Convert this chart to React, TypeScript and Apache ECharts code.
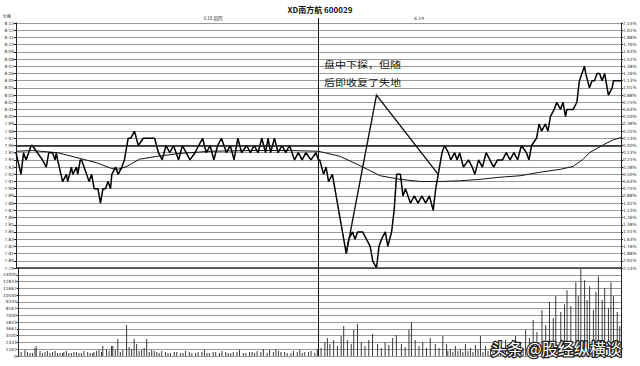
import React, { useEffect, useRef } from "react";
import * as echarts from "echarts";

// 昨收价与价格刻度：上下各 17 格，每格 0.01 元
const prevClose = 7.96;
const priceStep = 0.01;
const priceSpan = 17;
const priceMin = Number((prevClose - priceSpan * priceStep).toFixed(2));
const priceMax = Number((prevClose + priceSpan * priceStep).toFixed(2));

// 成交量刻度：13 格
const volStep = 3500 / 3;
const volMax = volStep * 13;

// 两个交易日，每日 240 分钟
const minutesTotal = 480;
const dayBreak = 240;
const dayLabels = ["6.18 周四", "6.19"];
const titleText = "XD南方航 600029";
const cornerLabel = "价格";
const noteLines = ["盘中下探，但随", "后即收复了失地"];
const watermarkText = "头条 @股经纵横谈";

// 分时价格 [分钟, 价格]
const priceDay1: [number, number][] = [
  [0, 7.95], [4, 7.92], [6, 7.95], [8, 7.94], [12, 7.96], [13, 7.96], [17, 7.95], [21, 7.94], [24, 7.93], [26, 7.95],
  [29, 7.95], [31, 7.94], [32, 7.95], [33, 7.94], [37, 7.91], [40, 7.92], [41, 7.91], [44, 7.93], [45, 7.92], [48, 7.93],
  [49, 7.92], [51, 7.94], [52, 7.94], [54, 7.93], [56, 7.92], [58, 7.91], [60, 7.92], [62, 7.9], [65, 7.9], [67, 7.88],
  [69, 7.9], [71, 7.9], [73, 7.91], [75, 7.9], [76, 7.92], [79, 7.93], [81, 7.92], [84, 7.93], [86, 7.94], [89, 7.97],
  [91, 7.97], [94, 7.98], [97, 7.96], [101, 7.97], [110, 7.97], [113, 7.95], [116, 7.94], [119, 7.96], [122, 7.95], [125, 7.96],
  [129, 7.94], [132, 7.96], [135, 7.95], [138, 7.94], [142, 7.95], [145, 7.96], [148, 7.97], [151, 7.95], [154, 7.96], [157, 7.94],
  [160, 7.96], [163, 7.97], [167, 7.95], [170, 7.96], [173, 7.94], [176, 7.97], [179, 7.95], [183, 7.96], [186, 7.95], [189, 7.96],
  [192, 7.95], [195, 7.97], [198, 7.95], [200, 7.97], [202, 7.95], [205, 7.97], [208, 7.95], [211, 7.96], [214, 7.95], [217, 7.96],
  [221, 7.94], [224, 7.95], [227, 7.94], [230, 7.95], [234, 7.94], [238, 7.95], [240, 7.94],
];

const priceDay2: [number, number][] = [
  [241, 7.94], [244, 7.92], [246, 7.93], [248, 7.91], [251, 7.92], [254, 7.89], [257, 7.86], [259, 7.84], [262, 7.81], [264, 7.83],
  [267, 7.84], [269, 7.83], [271, 7.84], [275, 7.84], [278, 7.83], [281, 7.82], [283, 7.8], [286, 7.79], [288, 7.82], [290, 7.83],
  [293, 7.84], [295, 7.82], [298, 7.84], [300, 7.87], [302, 7.92], [305, 7.92], [307, 7.89], [309, 7.9], [313, 7.88], [316, 7.89],
  [319, 7.88], [322, 7.89], [325, 7.88], [328, 7.89], [331, 7.87], [333, 7.9], [336, 7.93], [338, 7.95], [340, 7.96], [343, 7.95],
  [345, 7.94], [348, 7.95], [350, 7.94], [352, 7.95], [355, 7.93], [359, 7.94], [362, 7.93], [364, 7.92], [367, 7.94], [370, 7.93],
  [373, 7.95], [376, 7.94], [379, 7.93], [382, 7.94], [386, 7.94], [389, 7.95], [392, 7.94], [395, 7.95], [398, 7.94], [401, 7.96],
  [405, 7.95], [407, 7.94], [409, 7.96], [413, 7.97], [415, 7.99], [417, 7.98], [420, 7.99], [422, 7.98], [424, 8.0], [427, 8.01],
  [429, 8.02], [432, 8.01], [434, 8.02], [436, 8.0], [437, 8.01], [440, 8.01], [442, 8.01], [445, 8.02], [447, 8.05], [451, 8.07],
  [452, 8.06], [455, 8.04], [457, 8.05], [459, 8.05], [461, 8.06], [463, 8.06], [465, 8.05], [467, 8.06], [469, 8.04], [470, 8.03],
  [473, 8.04], [474, 8.05], [477, 8.05], [480, 8.05],
];

// 均价线 [分钟, 均价]
const avgDay1: [number, number][] = [
  [0, 7.952], [13, 7.953], [33, 7.95], [51, 7.942], [64, 7.936], [76, 7.928], [81, 7.927], [88, 7.931],
  [98, 7.941], [112, 7.945], [130, 7.949], [154, 7.952], [186, 7.953], [217, 7.953], [240, 7.952],
];

const avgDay2: [number, number][] = [
  [257, 7.945], [273, 7.932], [289, 7.918], [305, 7.913], [321, 7.91], [336, 7.91], [352, 7.911], [368, 7.913],
  [384, 7.916], [400, 7.918], [416, 7.923], [432, 7.927], [442, 7.931], [450, 7.941], [455, 7.95], [466, 7.961],
  [474, 7.968], [480, 7.971],
];

// 成交量 [分钟, 手数]
const volumeDay1: [number, number][] = [
  [0, 860], [2, 690], [5, 1030], [7, 690], [9, 520], [11, 520], [13, 1380], [14, 1720], [17, 860], [19, 520],
  [21, 690], [23, 860], [25, 520], [27, 690], [29, 860], [31, 520], [33, 520], [35, 520], [36, 690], [38, 860],
  [40, 520], [42, 520], [44, 690], [46, 690], [48, 520], [50, 520], [52, 860], [55, 690], [57, 520], [59, 520],
  [60, 690], [62, 860], [64, 1030], [66, 690], [67, 1720], [70, 1200], [72, 860], [74, 1720], [75, 1720], [77, 1030],
  [79, 2920], [81, 690], [83, 1030], [86, 5330], [88, 1550], [90, 1200], [92, 2920], [94, 2060], [96, 860], [98, 1030],
  [100, 1380], [102, 2920], [104, 690], [106, 1030], [108, 860], [110, 690], [112, 520], [114, 860], [117, 690], [119, 520],
  [121, 520], [124, 690], [126, 690], [129, 520], [131, 520], [133, 860], [136, 690], [138, 520], [141, 520], [143, 690],
  [146, 690], [148, 1030], [150, 520], [152, 520], [155, 690], [157, 690], [160, 520], [162, 860], [165, 690], [167, 520],
  [169, 520], [171, 690], [174, 690], [176, 1030], [179, 520], [181, 520], [184, 690], [186, 690], [188, 520], [190, 860],
  [193, 690], [195, 1200], [198, 520], [200, 1030], [203, 690], [205, 1200], [207, 860], [209, 690], [212, 690], [214, 520],
  [217, 520], [219, 860], [222, 690], [224, 1030], [226, 520], [228, 690], [231, 690], [233, 860], [236, 520], [238, 1200],
];

const volumeDay2: [number, number][] = [
  [241, 1380], [244, 2410], [246, 3100], [248, 2060], [251, 2750], [254, 1720], [257, 3440], [259, 5160], [262, 2750], [265, 2060],
  [267, 4470], [270, 5500], [273, 2410], [276, 1720], [279, 2750], [282, 3780], [286, 2060], [289, 1380], [292, 2410], [295, 1890],
  [298, 3100], [301, 3610], [305, 2060], [308, 1550], [311, 4470], [313, 5850], [316, 2750], [319, 1720], [322, 2410], [325, 1380],
  [328, 3100], [332, 2060], [335, 1380], [338, 3440], [341, 2060], [342, 860], [344, 1200], [346, 690], [348, 1720], [350, 860],
  [352, 1200], [354, 690], [356, 2060], [358, 860], [360, 1380], [362, 690], [364, 1890], [366, 1030], [368, 3440], [370, 690],
  [372, 1720], [374, 860], [376, 1200], [378, 690], [380, 2240], [382, 860], [384, 1550], [386, 690], [388, 2750], [390, 860],
  [392, 2060], [394, 1030], [396, 3440], [398, 860], [400, 2410], [402, 1380], [404, 4470], [407, 3100], [410, 6190], [413, 4130],
  [417, 7910], [420, 5330], [423, 9290], [426, 6540], [428, 10320], [432, 7570], [435, 8940], [437, 11350], [440, 8600], [444, 12730],
  [446, 10320], [448, 15000], [451, 13070], [453, 9630], [455, 12040], [458, 7910], [460, 11010], [462, 13760], [465, 9630], [467, 11700],
  [470, 8260], [472, 12730], [474, 10320], [477, 7570], [479, 5160],
];

// 注释折线：最低点 -> 文字下方 -> 收复点
const noteFrom: [number, number] = [262, 7.81];
const noteApex: [number, number] = [286, 8.03];
const noteTo: [number, number] = [335, 7.92];

const labelFont = "DejaVu Sans";
const cjkFont = "Noto Sans CJK SC";

export default function App() {
  const ref = useRef<HTMLDivElement>(null);

  useEffect(() => {
    if (!ref.current) return;
    const chart = echarts.init(ref.current, null, { renderer: "svg" });

    const axisLabelBase = { fontSize: 4.3, color: "#333", fontFamily: labelFont, margin: 2 };
    const gridLine = { show: true, lineStyle: { color: "#999999", width: 1 } };

    chart.setOption({
      animation: false,
      backgroundColor: "#ffffff",
      grid: [
        { left: 16, right: 19, top: 23, height: 245 },
        { left: 16, right: 19, top: 268, height: 88 },
      ],
      xAxis: [
        { type: "value", gridIndex: 0, min: 0, max: minutesTotal, show: false },
        { type: "value", gridIndex: 1, min: 0, max: minutesTotal, show: false },
      ],
      yAxis: [
        {
          type: "value",
          gridIndex: 0,
          position: "left",
          min: priceMin,
          max: priceMax,
          interval: priceStep,
          axisLine: { show: true, lineStyle: { color: "#222", width: 1 } },
          axisTick: { show: true, length: 2, lineStyle: { color: "#222" } },
          axisLabel: { ...axisLabelBase, formatter: (v: number) => v.toFixed(2) },
          splitLine: gridLine,
        },
        {
          type: "value",
          gridIndex: 0,
          position: "right",
          min: priceMin,
          max: priceMax,
          interval: priceStep,
          axisLine: { show: true, lineStyle: { color: "#222", width: 1 } },
          axisTick: { show: true, length: 2, lineStyle: { color: "#222" } },
          axisLabel: {
            ...axisLabelBase,
            formatter: (v: number) => Math.abs(((v - prevClose) / prevClose) * 100).toFixed(2) + "%",
          },
          splitLine: { show: false },
        },
        {
          type: "value",
          gridIndex: 1,
          position: "left",
          min: 0,
          max: volMax,
          interval: volStep,
          axisLine: { show: true, lineStyle: { color: "#222", width: 1 } },
          axisTick: { show: true, length: 2, lineStyle: { color: "#222" } },
          axisLabel: {
            ...axisLabelBase,
            showMaxLabel: false,
            // 顶部刻度与价格最低价标签重合，留空
            formatter: (v: number) => (v > volMax - 1 ? "" : String(Math.round(v))),
          },
          splitLine: gridLine,
        },
        {
          type: "value",
          gridIndex: 1,
          position: "right",
          min: 0,
          max: volMax,
          interval: volStep,
          axisLine: { show: true, lineStyle: { color: "#222", width: 1 } },
          axisTick: { show: false },
          axisLabel: { show: false },
          splitLine: { show: false },
        },
      ],
      series: [
        {
          name: "价格",
          type: "line",
          xAxisIndex: 0,
          yAxisIndex: 0,
          data: [...priceDay1, ...priceDay2],
          symbol: "none",
          lineStyle: { color: "#000", width: 1.5 },
          markLine: {
            silent: true,
            symbol: ["none", "none"],
            label: { show: false },
            lineStyle: { color: "#1a1a1a", width: 1.6, type: "solid" },
            data: [{ yAxis: prevClose }],
          },
          z: 3,
        },
        {
          name: "均价",
          type: "line",
          xAxisIndex: 0,
          yAxisIndex: 0,
          data: [...avgDay1, ...avgDay2],
          symbol: "none",
          lineStyle: { color: "#111", width: 1 },
          z: 2,
        },
        {
          name: "成交量",
          type: "bar",
          xAxisIndex: 1,
          yAxisIndex: 2,
          data: [...volumeDay1, ...volumeDay2],
          barWidth: 1,
          itemStyle: { color: "#3a3a3a" },
        },
      ],
    });

    const toPx = (p: [number, number]) =>
      chart.convertToPixel({ xAxisIndex: 0, yAxisIndex: 0 }, p) as number[];
    const toVolPx = (p: [number, number]) =>
      chart.convertToPixel({ xAxisIndex: 1, yAxisIndex: 2 }, p) as number[];

    const [breakX, priceTop] = toPx([dayBreak, priceMax]);
    const [leftX, priceBottom] = toPx([0, priceMin]);
    const [rightX] = toPx([minutesTotal, priceMin]);
    const [, volBottom] = toVolPx([dayBreak, 0]);
    const a = toPx(noteFrom);
    const b = toPx(noteApex);
    const c = toPx(noteTo);

    chart.setOption({
      graphic: [
        {
          type: "text",
          x: 320,
          y: 9,
          style: {
            text: titleText,
            fontSize: 8,
            fontWeight: "bold",
            fontFamily: cjkFont,
            fill: "#111",
            align: "center",
            verticalAlign: "middle",
          },
        },
        {
          type: "text",
          x: 3,
          y: 16,
          style: { text: cornerLabel, fontSize: 4, fontFamily: cjkFont, fill: "#333", verticalAlign: "middle" },
        },
        {
          type: "text",
          x: 213,
          y: 18,
          style: { text: dayLabels[0], fontSize: 4.5, fontFamily: cjkFont, fill: "#333", align: "center", verticalAlign: "middle" },
        },
        {
          type: "text",
          x: 419,
          y: 18,
          style: { text: dayLabels[1], fontSize: 4.5, fontFamily: labelFont, fill: "#333", align: "center", verticalAlign: "middle" },
        },
        {
          type: "line",
          shape: { x1: breakX, y1: priceTop - 5, x2: breakX, y2: volBottom },
          style: { stroke: "#111", lineWidth: 1 },
          z: 10,
        },
        {
          type: "line",
          shape: { x1: leftX, y1: priceBottom, x2: rightX, y2: priceBottom },
          style: { stroke: "#333", lineWidth: 1.4 },
          z: 10,
        },
        {
          type: "polyline",
          shape: { points: [a, b, c] },
          style: { stroke: "#111", lineWidth: 1.4, fill: null },
          z: 10,
        },
        {
          type: "text",
          x: 324,
          y: 64.5,
          scaleY: 0.8,
          style: { text: noteLines[0], fontSize: 11, fontFamily: cjkFont, fill: "#111", verticalAlign: "middle" },
          z: 10,
        },
        {
          type: "text",
          x: 324,
          y: 82.5,
          scaleY: 0.8,
          style: { text: noteLines[1], fontSize: 11, fontFamily: cjkFont, fill: "#111", verticalAlign: "middle" },
          z: 10,
        },
        {
          type: "text",
          x: 491,
          y: 348,
          style: {
            text: watermarkText,
            fontSize: 16,
            fontFamily: cjkFont,
            fill: "#222",
            stroke: "#222",
            lineWidth: 2.5,
            verticalAlign: "middle",
          },
          z: 20,
        },
        {
          type: "text",
          x: 491,
          y: 348,
          style: { text: watermarkText, fontSize: 16, fontFamily: cjkFont, fill: "#ffffff", verticalAlign: "middle" },
          z: 21,
        },
      ],
    });

    return () => chart.dispose();
  }, []);

  return (
    <div
      ref={ref}
      style={{ position: "absolute", left: 0, top: 0, width: 640, height: 366, background: "#fff" }}
    />
  );
}
